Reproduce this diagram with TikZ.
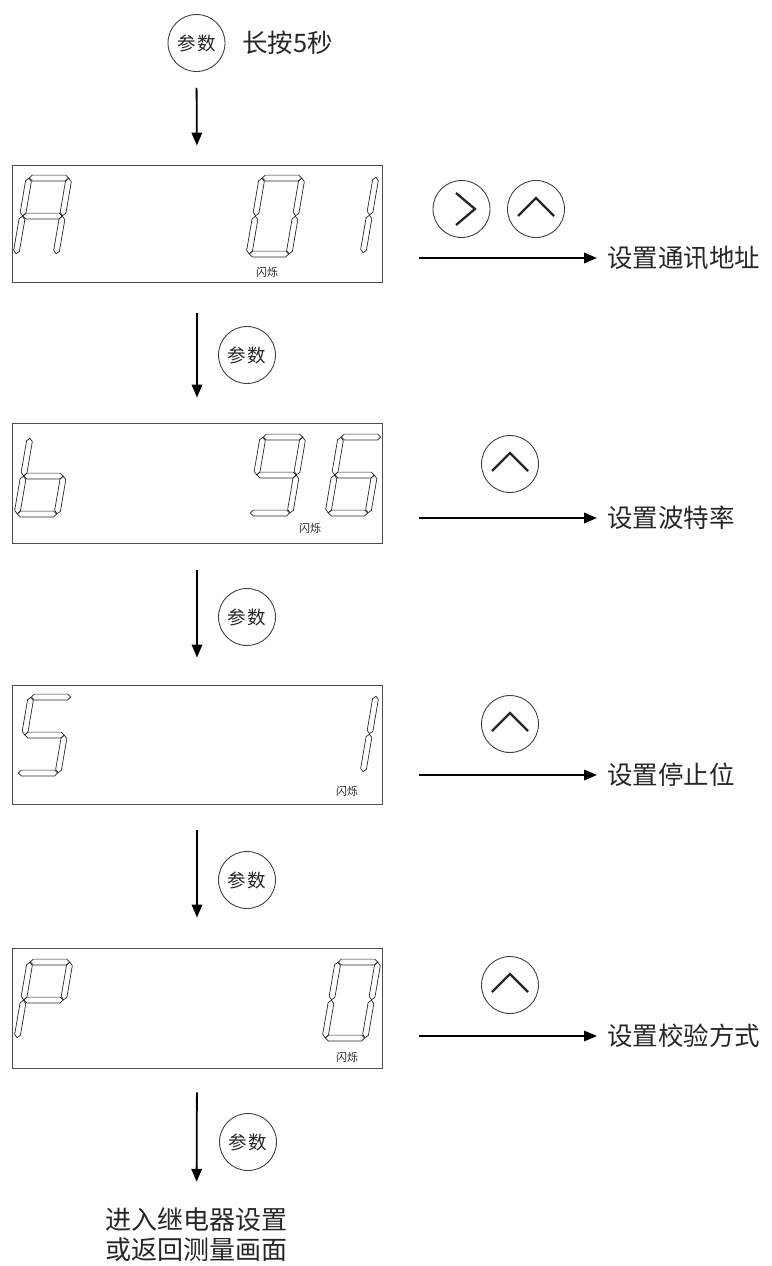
\documentclass[tikz,border=0pt]{standalone}
\usepackage{fontspec}
\setmainfont{Noto Sans CJK SC}
\usetikzlibrary{calc,arrows.meta}
\tikzset{
  btn/.style={circle,draw=black!75,line width=0.9pt,minimum size=57pt,inner sep=0pt,
    font=\fontsize{18.5}{19}\selectfont,text=black!85},
  lbl/.style={font=\fontsize{25.5}{30}\selectfont,text=black!85,inner sep=0pt},
  flash/.style={font=\fontsize{11}{12}\selectfont,text=black!85,inner sep=0pt},
  flow/.style={line width=1.8pt,draw=black,-{Triangle[length=13pt,width=10.5pt]}},
  disp/.style={draw=black!70,line width=0.9pt,minimum width=370pt,inner sep=0pt},
  segline/.style={draw=black!85,line width=0.7pt,line join=miter},
  chev/.style={draw=black!85,line width=2.3pt}
}
\newcommand\sg[2]{\draw[segline] ($(#1)!0.3pt!(#2)$) -- ($(#1)!3.2pt!(#2)!2.9pt!90:(#2)$) -- ($(#2)!3.2pt!(#1)!2.9pt!-90:(#1)$) -- ($(#2)!0.3pt!(#1)$) -- ($(#2)!3.2pt!(#1)!2.9pt!90:(#1)$) -- ($(#1)!3.2pt!(#2)!2.9pt!-90:(#2)$) -- cycle;}
\def\dsega{\sg{TL}{TR}}
\def\dsegb{\sg{TR}{MR}}
\def\dsegc{\sg{MR}{BR}}
\def\dsegd{\sg{BL}{BR}}
\def\dsege{\sg{ML}{BL}}
\def\dsegf{\sg{TL}{ML}}
\def\dsegg{\sg{ML}{MR}}
\newcommand\sdig[3]{%
  \coordinate (BL) at (#1,#2);
  \coordinate (BR) at (#1+40,#2);
  \coordinate (ML) at (#1+6.5,#2-38);
  \coordinate (MR) at (#1+46.5,#2-38);
  \coordinate (TL) at (#1+13,#2-76);
  \coordinate (TR) at (#1+53,#2-76);
  \foreach \s in {#3}{\csname dseg\s\endcsname}}
\begin{document}
\begin{tikzpicture}[x=1pt,y=-1pt]
\useasboundingbox (0,0) rectangle (771,1266);
% top
\node[btn] (b0) at (196.5,43) {参\hspace{1.5pt}数};
\node[lbl,anchor=west] (t0) at (242,43) {长按5秒};
% displays
\node[disp,minimum height=117pt] (d1) at (197,223.5) {};
\node[disp,minimum height=120pt] (d2) at (197,483) {};
\node[disp,minimum height=119pt] (d3) at (197,744.5) {};
\node[disp,minimum height=120pt] (d4) at (197,1008) {};
\draw[flow,shorten <=16pt,shorten >=19pt] (b0.south) -- (d1.north);
\draw[flow,shorten <=31pt,shorten >=25pt] (d1.south) -- (d2.north);
\draw[flow,shorten <=27pt,shorten >=27pt] (d2.south) -- (d3.north);
\draw[flow,shorten <=26pt,shorten >=30pt] (d3.south) -- (d4.north);
% digits display 1: A 0 1
\sdig{16}{254}{a,b,c,e,f,g}
\sdig{249}{254}{a,b,c,d,e,f}
\sdig{323}{253}{b,c}
% display 2: b 9 6
\sdig{17}{514}{c,d,e,f,g}
\sdig{250}{513}{a,b,c,d,f,g}
\sdig{328}{513}{a,c,d,e,f,g}
% display 3: S 1
\sdig{18}{773}{a,f,g,c,d}
\sdig{323}{772}{b,c}
% display 4: P 0
\sdig{17}{1038}{a,b,e,f,g}
\sdig{325}{1038}{a,b,c,d,e,f}
% flash labels
\node[flash] (f1) at (267,272) {闪烁};
\node[flash] (f2) at (310,528) {闪烁};
\node[flash] (f3) at (347,791) {闪烁};
\node[flash] (f4) at (347,1057) {闪烁};
% side buttons
\node[btn] (r1) at (461.5,209) {};
\draw[chev] ($(r1)+(-5.5,-16)$) -- ($(r1)+(13.5,0)$) -- ($(r1)+(-5.5,16)$);
\node[btn] (u1) at (536,209) {};
\node[btn] (u2) at (510,464) {};
\node[btn] (u3) at (510,724) {};
\node[btn] (u4) at (510,985) {};
\foreach \u in {u1,u2,u3,u4}{
  \draw[chev] ($(\u)+(-18,7)$) -- ($(\u)+(0,-11)$) -- ($(\u)+(18,7)$);}
% side labels and arrows
\node[lbl,anchor=west] (s1) at (607,258) {设置通讯地址};
\node[lbl,anchor=west] (s2) at (607,518) {设置波特率};
\node[lbl,anchor=west] (s3) at (607,775) {设置停止位};
\node[lbl,anchor=west] (s4) at (607,1036) {设置校验方式};
\coordinate (h1) at (419,258);
\coordinate (h2) at (419,518);
\coordinate (h3) at (419,775);
\coordinate (h4) at (419,1036);
\draw[flow,shorten >=10pt] (h1) -- (s1.west);
\draw[flow,shorten >=10pt] (h2) -- (s2.west);
\draw[flow,shorten >=10pt] (h3) -- (s3.west);
\draw[flow,shorten >=10pt] (h4) -- (s4.west);
% parameter buttons between displays
\node[btn] (p1) at (247,355) {参\hspace{1.5pt}数};
\node[btn] (p2) at (247,617) {参\hspace{1.5pt}数};
\node[btn] (p3) at (247,880) {参\hspace{1.5pt}数};
\node[btn] (p4) at (248,1142) {参\hspace{1.5pt}数};
% final
\node[lbl,align=center,font=\fontsize{26}{30}\selectfont] (end) at (196.5,1235) {进入继电器设置\\或返回测量画面};
\draw[flow,shorten <=24pt,shorten >=26pt] (d4.south) -- (end.north);
\end{tikzpicture}
\end{document}
